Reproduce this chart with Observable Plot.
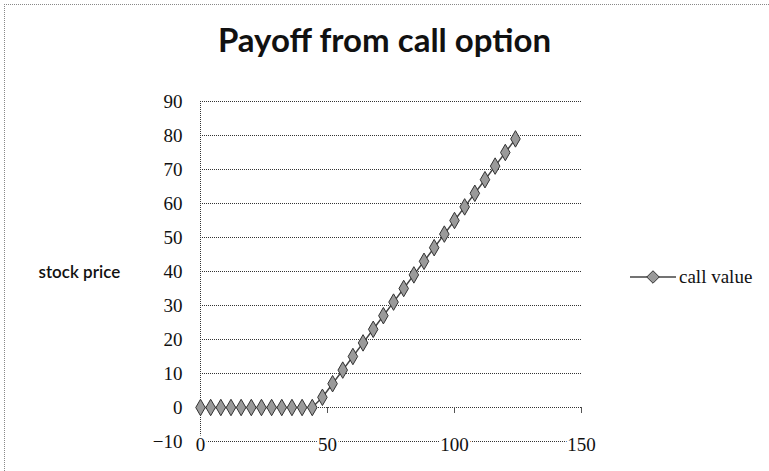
<!DOCTYPE html>
<html>
<head>
<meta charset="utf-8">
<script src="https://cdn.jsdelivr.net/npm/d3@7"></script>
<script src="https://cdn.jsdelivr.net/npm/@observablehq/plot@0.6"></script>
<style>
  html, body { margin: 0; padding: 0; background: #fff; }
  #chart { position: relative; width: 769px; height: 471px; overflow: hidden; }
  #frame { position: absolute; left: 4px; top: 4px; width: 780px; height: 480px;
           border-top: 1px dotted #888; border-left: 1px dotted #888; }
  #title { position: absolute; left: 0; top: 21px; width: 769px; text-align: center;
           font-family: Lato, sans-serif; font-weight: bold; font-size: 33px; line-height: 36px; color: #111; }
  #plot { position: absolute; left: 0; top: 80px; }
  #legend { position: absolute; left: 630px; top: 266px; height: 22px; display: flex; align-items: center;
            font-family: "Liberation Serif", serif; font-size: 19px; color: #111; }
  #legend svg { margin-right: 3px; }
</style>
</head>
<body>
<div id="chart">
  <div id="frame"></div>
  <div id="title"></div>
  <div id="plot"></div>
  <div id="legend"></div>
</div>
<script>
const titleText = "Payoff from call option";
const yLabel = "stock price";
const seriesName = "call value";

const stockPrice = [0, 4, 8, 12, 16, 20, 24, 28, 32, 36, 40, 44,
  48, 52, 56, 60, 64, 68, 72, 76, 80, 84, 88, 92, 96, 100, 104, 108, 112, 116, 120, 124];
const callValue = [0, 0, 0, 0, 0, 0, 0, 0, 0, 0, 0, 0,
  3, 7, 11, 15, 19, 23, 27, 31, 35, 39, 43, 47, 51, 55, 59, 63, 67, 71, 75, 79];

const xTicks = [0, 50, 100, 150];
const yTicks = [-10, 0, 10, 20, 30, 40, 50, 60, 70, 80, 90];

const data = stockPrice.map((s, i) => ({s, v: callValue[i]}));

document.getElementById("title").textContent = titleText;

const plot = Plot.plot({
  width: 769,
  height: 391,
  marginLeft: 200,
  marginRight: 188,
  marginTop: 21,
  marginBottom: 30,
  style: {fontFamily: "'Liberation Serif', serif", fontSize: "18px", color: "#111", background: "transparent"},
  x: {domain: [0, 150], axis: null},
  y: {domain: [-10, 90], ticks: yTicks},
  marks: [
    Plot.ruleY(yTicks, {stroke: "#333", strokeDasharray: "1,1", strokeWidth: 1}),
    Plot.ruleX([0], {stroke: "#333", strokeDasharray: "1,1", strokeWidth: 1}),
    Plot.ruleX(xTicks.filter(d => d > 0), {x: d => d, y1: 0, y2: 0, insetBottom: -6, stroke: "#555"}),
    Plot.axisY({ticks: yTicks, tickSize: 0, tickPadding: 18, label: null, fontSize: 19, fill: "#111"}),
    Plot.text(xTicks, {x: d => d, y: -10, text: d => String(d), fontSize: 19, fill: "#111",
      stroke: "white", strokeWidth: 5, lineAnchor: "middle", dy: 3}),
    Plot.text([yLabel], {frameAnchor: "left", textAnchor: "start", dx: -162, dy: 1,
      fontFamily: "Lato, sans-serif", fontSize: 17, fontWeight: 600, fill: "#111"}),
    Plot.line(data, {x: "s", y: "v", stroke: "#444", strokeWidth: 1.5}),
    Plot.dot(data, {x: "s", y: "v", symbol: "diamond", r: 5, fill: "#9a9a9a", stroke: "#333", strokeWidth: 1})
  ]
});
document.getElementById("plot").appendChild(plot);

// legend
const leg = document.getElementById("legend");
const ls = d3.create("svg").attr("width", 46).attr("height", 22);
ls.append("line").attr("x1", 0).attr("x2", 46).attr("y1", 11).attr("y2", 11)
  .attr("stroke", "#444").attr("stroke-width", 1.5);
ls.append("path").attr("d", d3.symbol(d3.symbolDiamond2, 100)()).attr("transform", "translate(23,11)")
  .attr("fill", "#9a9a9a").attr("stroke", "#333");
leg.appendChild(ls.node());
const lt = document.createElement("span");
lt.textContent = seriesName;
leg.appendChild(lt);
</script>
</body>
</html>
